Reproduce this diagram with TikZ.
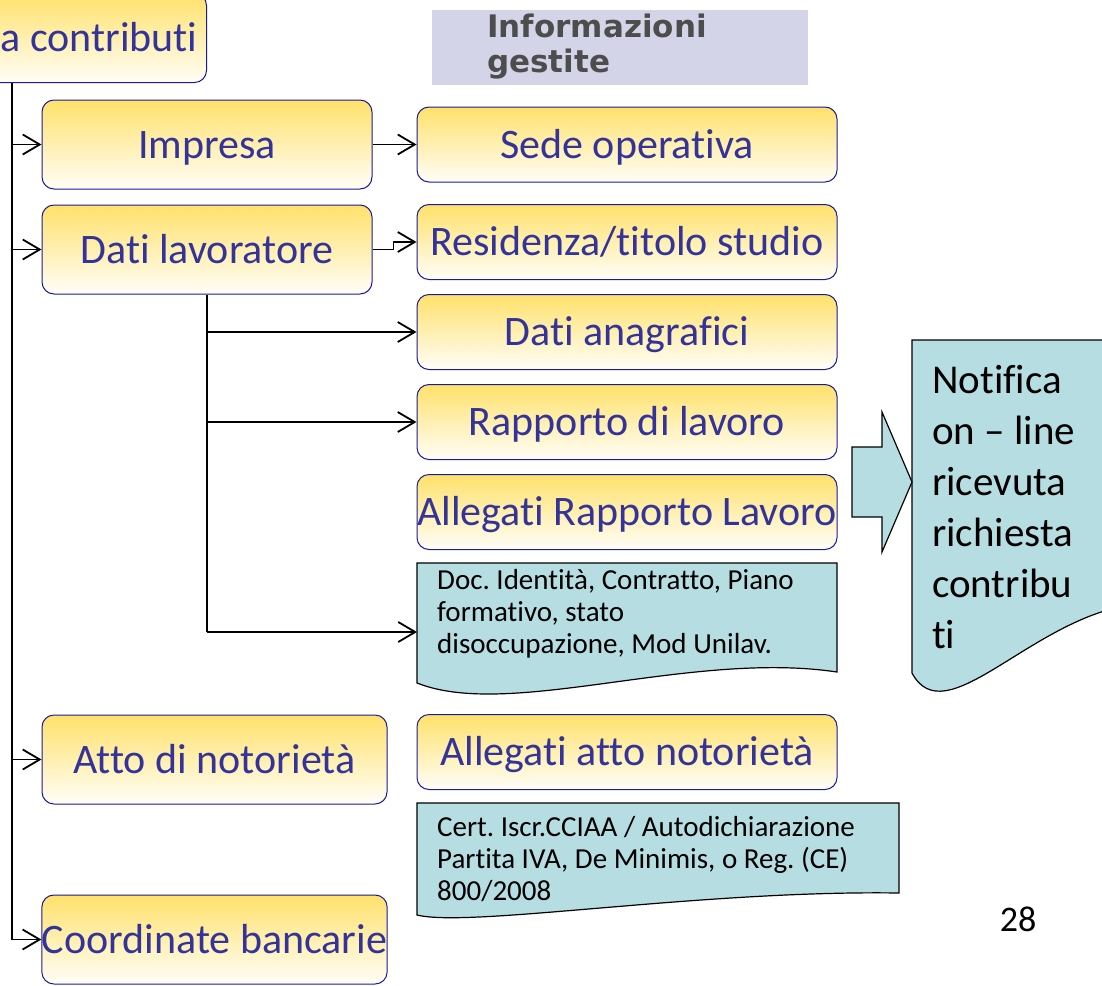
\documentclass[tikz,border=0pt]{standalone}
\usepackage{fontspec}
\setmainfont{Carlito}[Ligatures=NoCommon]
\newfontfamily\headfont{DejaVu Sans}
\frenchspacing
\usetikzlibrary{arrows.meta}
\definecolor{ytop}{HTML}{FFE16A}
\definecolor{ybot}{HTML}{FFFEF8}
\definecolor{boxblue}{HTML}{1A1A9C}
\definecolor{txtblue}{HTML}{333399}
\definecolor{docteal}{HTML}{B6DEE2}
\definecolor{lav}{HTML}{D4D4E8}
\definecolor{hdrgray}{HTML}{4D4D4D}

\begin{document}
\begin{tikzpicture}[x=1pt,y=1pt,yscale=-1,
	ybox/.style={draw=boxblue,line width=1pt,rounded corners=12pt,top color=ytop,bottom color=ybot,
		text=txtblue,inner sep=0pt,font=\fontsize{42}{50}\selectfont,text height=27pt,text depth=0pt},
	lbox/.style={ybox,minimum width=330pt,minimum height=89pt},
	rbox/.style={ybox,minimum width=420pt,minimum height=75pt},
	docshape/.style={fill=docteal,draw=black,line width=1.2pt},
	doctxt/.style={font=\fontsize{29}{32}\selectfont,align=left,inner sep=0pt,anchor=base west},
	line/.style={line width=1.8pt},
	arr/.style={line,-{Straight Barb[length=17pt,width=20pt]}}]
	\useasboundingbox (0,0) rectangle (1102,985);
	
	%Header (anchored at the baseline of its last line)
	\fill[lav] (432,10) rectangle (808,85);
	\node[anchor=base west,inner sep=0pt,align=left,text=hdrgray,font=\headfont\bfseries\fontsize{31}{35}\selectfont] (info) at (487,72) {Informazioni\\gestite};
	
	%Left column
	\node[ybox,minimum width=440pt,minimum height=89pt,anchor=south east] (root) at (207,83) {\makebox[422pt][r]{a contributi}};
	\node[lbox] (imp) at (207,144.5) {Impresa};
	\node[lbox] (dl) at (207,249.5) {Dati lavoratore};
	\node[lbox,minimum width=345pt] (atto) at (214.5,759.5) {Atto di notorietà};
	\node[lbox,minimum width=345pt] (coord) at (214.5,939.5) {Coordinate bancarie};
	
	%Right column
	\node[rbox] (sede) at (627,144.5) {Sede operativa};
	\node[rbox] (res) at (627,242) {Residenza/titolo studio};
	\node[rbox] (ana) at (627,332) {Dati anagrafici};
	\node[rbox] (rap) at (627,422) {Rapporto di lavoro};
	\node[rbox] (allrl) at (627,512) {Allegati Rapporto Lavoro};
	\node[rbox] (allat) at (627,752) {Allegati atto notorietà};
	
	%Shape: Documents
	\draw[docshape] (417,563) -- (837,563) -- (837,672) .. controls (690,650) and (510,720) .. (417,683) -- cycle;
	\coordinate (docA) at (417,632);
	\node[doctxt] (docAtxt) at (437,653) {Doc. Identità, Contratto, Piano\\formativo, stato\\disoccupazione, Mod Unilav.};
	\draw[docshape] (417,803) -- (899,803) -- (899,893) .. controls (700,890) and (470,928) .. (417,915) -- cycle;
	\node[doctxt] (docBtxt) at (437,900) {Cert. Iscr.CCIAA / Autodichiarazione\\Partita IVA, De Minimis, o Reg. (CE)\\800/2008};
	\draw[docshape] (912,340) -- (1130,340) -- (1130,605) .. controls (1030,620) and (945,735) .. (912,673) -- cycle;
	\node[doctxt,font=\fontsize{41}{51}\selectfont] (notif) at (932,648) {Notifica\\on – line\\ricevuta\\richiesta\\contribu\\ti};
	
	%Shape: Block arrow
	\draw[docshape] (852,447) -- (882,447) -- (882,412) -- (912,482) -- (882,552) -- (882,517) -- (852,517) -- cycle;
	
	% Text Node
	\node[anchor=base,inner sep=0pt,font=\fontsize{36}{40}\selectfont] (pnum) at (1018,931) {28};
	
	%Connectors
	\coordinate (tx) at (12,0);
	\draw[line] (root.south -| tx) -- (coord.west -| tx);
	\foreach \n in {imp,dl,atto,coord}
		\draw[arr] (\n.west -| tx) -- (\n.west);
	\draw[arr] (imp.east) -- (sede.west);
	\draw[arr] (dl.east) -- ++(21,0) |- (res.west);
	\draw[line] (dl.south) -- (dl.south |- docA);
	\foreach \n in {ana,rap}
		\draw[arr] (dl.south |- \n.west) -- (\n.west);
	\draw[arr] (dl.south |- docA) -- (docA);
\end{tikzpicture}
\end{document}
